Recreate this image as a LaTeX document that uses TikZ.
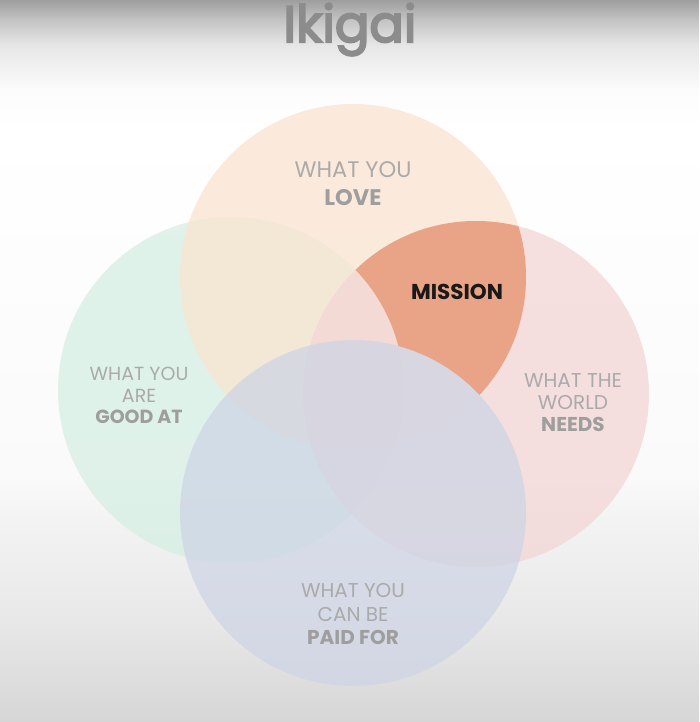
\documentclass[tikz,border=0pt]{standalone}
\usepackage{fontspec}
\setmainfont{Poppins}
\newfontfamily\titlefont{Poppins}[FakeBold=4]
\usetikzlibrary{positioning}

\definecolor{lovec}{RGB}{250,228,208}
\definecolor{goodc}{RGB}{214,239,228}
\definecolor{needc}{RGB}{243,214,213}
\definecolor{paidc}{RGB}{206,213,229}
\definecolor{missionc}{RGB}{233,163,134}
\definecolor{lblgray}{RGB}{170,170,170}
\definecolor{lbldark}{RGB}{158,158,158}
\definecolor{titlegray}{RGB}{140,140,140}
\definecolor{bglow}{RGB}{214,214,214}
\definecolor{bgmid}{RGB}{232,232,232}
\definecolor{bgmidb}{RGB}{243,243,243}
\definecolor{bgwhite}{RGB}{250,250,250}
\definecolor{bgtopa}{RGB}{252,252,252}
\definecolor{bgtopb}{RGB}{230,230,230}
\definecolor{bgtopc}{RGB}{196,196,196}
\definecolor{bgtop}{RGB}{158,158,158}

\pgfdeclareverticalshading{bgshade}{100bp}{color(0bp)=(bglow); color(25bp)=(bglow); color(32bp)=(bgmid); color(39bp)=(bgmidb); color(42bp)=(bgwhite); color(66bp)=(white); color(68.8bp)=(bgtopa); color(71.9bp)=(bgtopb); color(73.6bp)=(bgtopc); color(75bp)=(bgtop); color(100bp)=(bgtop)}

\begin{document}
\begin{tikzpicture}[x=1pt, y=-1pt,
    circ/.style={circle, minimum size=346pt, inner sep=0pt, fill opacity=0.75},
    lbl/.style={anchor=base, inner sep=0pt, text=lblgray, font=\fontsize{20}{24}\selectfont},
    lblb/.style={lbl, text=lbldark, font=\fontsize{20}{24}\selectfont\bfseries}]
    \useasboundingbox (0,0) rectangle (699,722);
    \shade[shading=bgshade] (0,0) rectangle (699,722);

    \node[circ, fill=goodc] (good) at (231,390) {};
    \node[circ, fill=lovec] (love) at (353,277) {};
    \node[circ, fill=needc] (needs) at (476,394) {};
    \node[circ, fill=paidc] (paid) at (353,513) {};

    % mission = love and needs, outside good and paid
    \begin{scope}[even odd rule]
        \clip (0,0) rectangle (699,722) (good.center) circle[radius=173];
        \clip (0,0) rectangle (699,722) (paid.center) circle[radius=173];
        \clip (love.center) circle[radius=173];
        \fill[missionc] (needs.center) circle[radius=173];
    \end{scope}

    \node[anchor=base, inner sep=0pt, text=titlegray, font=\fontsize{51}{51}\titlefont] (title) at (350,42) {Ikigai};

    \node[lbl, font=\fontsize{22.5}{27}\selectfont] (love_1) at (353,178) {WHAT YOU};
    \node[lblb, font=\fontsize{22.5}{27}\selectfont\bfseries, below = 27pt of love_1.base, anchor=base] (love_2) {LOVE};

    \node[lbl, font=\fontsize{19}{23}\selectfont] (good_1) at (139,380) {WHAT YOU};
    \node[lbl, font=\fontsize{19}{23}\selectfont, below = 22pt of good_1.base, anchor=base] (good_2) {ARE};
    \node[lblb, font=\fontsize{19}{23}\selectfont\bfseries, below = 21pt of good_2.base, anchor=base] (good_3) {GOOD AT};

    \node[lbl] (needs_1) at (573,387) {WHAT THE};
    \node[lbl, below = 22pt of needs_1.base, anchor=base] (needs_2) {WORLD};
    \node[lblb, below = 22pt of needs_2.base, anchor=base] (needs_3) {NEEDS};

    \node[lbl] (paid_1) at (353,597) {WHAT YOU};
    \node[lbl, below = 24pt of paid_1.base, anchor=base] (paid_2) {CAN BE};
    \node[lblb, below = 23pt of paid_2.base, anchor=base] (paid_3) {PAID FOR};

    \node[anchor=base, inner sep=0pt, text=black!90, font=\fontsize{21.5}{26}\selectfont\bfseries] (mission) at (457,299) {MISSION};
\end{tikzpicture}
\end{document}
